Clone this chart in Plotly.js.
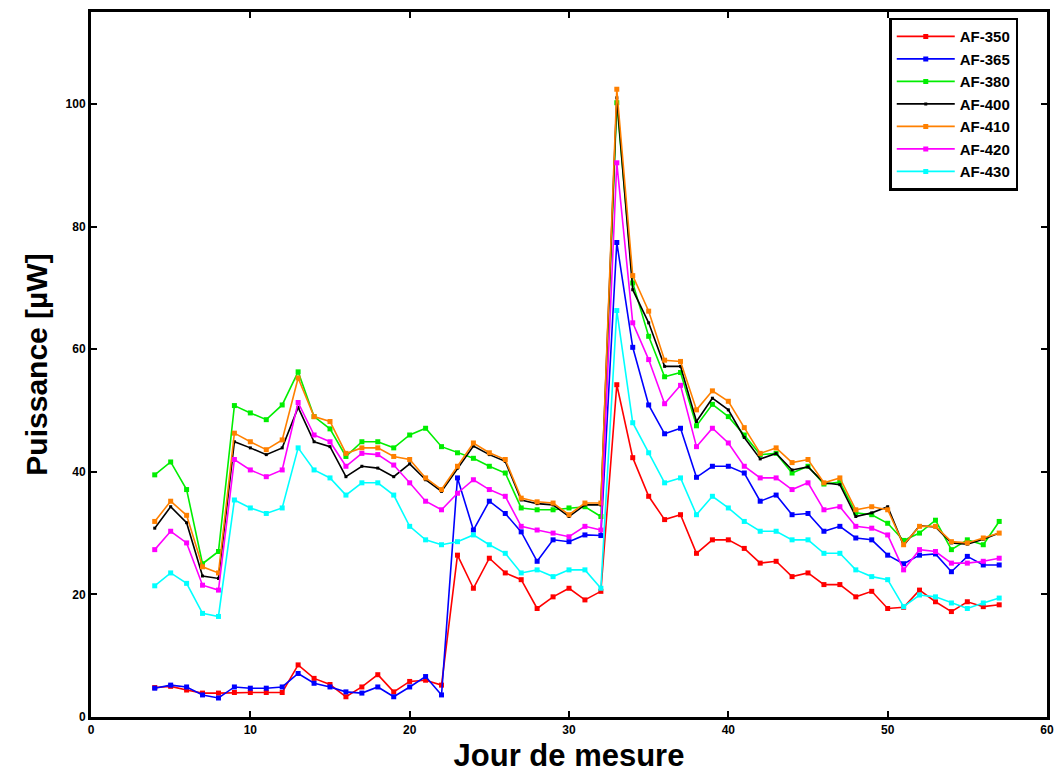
<!DOCTYPE html>
<html>
<head>
<meta charset="utf-8">
<script src="https://cdn.plot.ly/plotly-3.0.1.min.js"></script>
<style>html,body{margin:0;padding:0;background:#fff;}#chart{width:1058px;height:782px;}</style>
</head>
<body>
<div id="chart"></div>
<script>
const days = [4,5,6,7,8,9,10,11,12,13,14,15,16,17,18,19,20,21,22,23,24,25,26,27,28,29,30,31,32,33,34,35,36,37,38,39,40,41,42,43,44,45,46,47,48,49,50,51,52,53,54,55,56,57];

const seriesNames = ["AF-350","AF-365","AF-380","AF-400","AF-410","AF-420","AF-430"];
const seriesColors = ["#ff0000","#0000ff","#00ee00","#000000","#ff8000","#ff00ff","#00ffff"];

const af350 = [4.8,5.0,4.4,3.9,3.9,4.0,4.0,4.0,4.0,8.5,6.3,5.3,3.3,4.9,6.9,4.1,5.8,6.0,5.2,26.4,21.0,25.9,23.5,22.4,17.7,19.6,21.0,19.1,20.5,54.2,42.3,36.0,32.2,33.0,26.7,28.9,28.9,27.5,25.1,25.4,22.9,23.5,21.6,21.6,19.6,20.5,17.7,17.9,20.7,18.8,17.2,18.8,18.0,18.3];
const af365 = [4.7,5.2,4.9,3.6,3.1,4.9,4.7,4.7,4.9,7.1,5.5,4.9,4.1,3.9,4.9,3.3,4.9,6.6,3.6,39.0,30.5,35.2,33.2,30.2,25.4,28.9,28.6,29.7,29.6,77.4,60.3,50.9,46.2,47.1,39.1,40.9,40.9,39.8,35.2,36.2,33.0,33.2,30.3,31.1,29.2,28.9,26.4,25.0,26.4,26.6,23.7,26.2,24.8,24.8];
const af380 = [39.5,41.6,37.1,25.0,27.0,50.8,49.6,48.5,50.9,56.3,49.0,47.0,42.5,44.9,44.9,43.9,46.0,47.1,44.1,43.1,42.2,40.9,39.8,34.1,33.8,33.8,34.1,34.3,32.7,100.2,70.8,62.1,55.5,56.2,47.5,51.0,49.0,46.0,42.8,43.0,39.8,40.9,38.0,38.3,33.3,33.0,31.6,28.8,30.0,32.1,27.3,28.9,28.1,31.9];
const af400 = [30.8,34.3,31.7,23.0,22.6,44.9,43.9,42.8,43.9,50.5,44.9,44.1,39.2,40.9,40.6,39.2,41.3,38.7,36.8,40.6,44.2,42.8,41.7,35.4,34.8,34.6,32.7,34.6,34.6,101.0,69.7,64.3,57.2,57.2,48.2,52.0,50.1,45.6,42.1,43.0,40.3,40.8,38.2,37.9,32.7,33.3,34.3,28.0,31.2,31.0,28.4,28.2,29.0,30.0];
const af410 = [31.9,35.2,32.9,24.5,23.5,46.3,44.9,43.6,45.2,55.3,49.0,48.2,43.0,43.9,43.9,42.5,42.0,39.0,37.1,40.9,44.7,43.1,42.0,35.7,35.1,34.9,33.0,34.9,34.9,102.4,72.0,66.2,58.2,58.0,50.1,53.2,51.5,47.2,43.0,43.9,41.5,42.0,38.2,39.0,33.8,34.3,33.8,28.1,31.1,31.1,28.6,28.4,29.2,30.0];
const af420 = [27.3,30.3,28.4,21.5,20.7,42.0,40.3,39.2,40.3,51.3,46.0,44.9,40.9,43.0,42.8,41.1,38.2,35.2,33.8,36.5,38.7,37.1,36.0,31.1,30.5,30.0,29.4,31.1,30.5,90.4,64.3,58.3,51.1,54.1,44.1,47.1,44.7,40.9,39.0,39.0,37.1,38.2,33.8,34.3,31.1,30.8,29.7,24.0,27.3,27.0,25.1,25.1,25.4,25.9];
const af430 = [21.4,23.5,21.8,16.9,16.4,35.4,34.1,33.2,34.1,43.9,40.3,39.0,36.2,38.2,38.2,36.2,31.1,28.9,28.1,28.6,29.7,28.1,26.7,23.5,24.0,22.9,24.0,24.0,21.0,66.3,48.0,43.1,38.2,39.0,33.0,36.0,34.1,31.9,30.3,30.3,28.9,28.9,26.7,26.7,24.0,22.9,22.4,18.0,19.9,19.6,18.6,17.7,18.6,19.4];

const xTicks = [0,10,20,30,40,50,60];
const yTicks = [0,20,40,60,80,100];

const allSeries = [af350, af365, af380, af400, af410, af420, af430];

const traces = allSeries.map((vals, i) => ({
  x: days,
  y: vals,
  type: 'scatter',
  mode: 'lines+markers',
  name: seriesNames[i],
  line: {color: seriesColors[i], width: 1.6},
  marker: {color: seriesColors[i], symbol: 'square', size: i === 3 ? 3 : 5, line: {width: 0}}
}));

const layout = {
  width: 1058,
  height: 782,
  margin: {l: 91, r: 11, t: 12, b: 65},
  paper_bgcolor: '#ffffff',
  plot_bgcolor: '#ffffff',
  font: {family: 'Liberation Sans, Arial, sans-serif', color: '#000', size: 12},
  showlegend: true,
  legend: {
    x: 0.835, y: 0.992, xanchor: 'left', yanchor: 'top',
    bgcolor: '#ffffff', bordercolor: '#000', borderwidth: 2.5,
    font: {family: 'Liberation Sans, Arial, sans-serif', size: 15, color: '#000', weight: 'bold'},
    tracegroupgap: 0,
    itemwidth: 58
  },
  xaxis: {
    range: [0, 60],
    tickvals: xTicks,
    ticktext: xTicks.map(String),
    ticks: 'inside', ticklen: 6, tickwidth: 2, tickcolor: '#000',
    showline: true, linecolor: '#000', linewidth: 3, mirror: 'ticks',
    showgrid: false, zeroline: false,
    tickfont: {family: 'Liberation Sans, Arial, sans-serif', size: 12, weight: 'bold'},
    title: {text: 'Jour de mesure', font: {family: 'Liberation Sans, Arial, sans-serif', size: 31, weight: 'bold'}, standoff: 8}
  },
  yaxis: {
    range: [0, 115],
    tickvals: yTicks,
    ticktext: yTicks.map(String),
    ticks: 'inside', ticklen: 6, tickwidth: 2, tickcolor: '#000',
    showline: true, linecolor: '#000', linewidth: 3, mirror: 'ticks',
    showgrid: false, zeroline: false,
    tickfont: {family: 'Liberation Sans, Arial, sans-serif', size: 12, weight: 'bold'},
    title: {text: 'Puissance [µW]', font: {family: 'Liberation Sans, Arial, sans-serif', size: 30, weight: 'bold'}, standoff: 10}
  }
};

Plotly.newPlot('chart', traces, layout, {displayModeBar: false, staticPlot: true});
</script>
</body>
</html>
